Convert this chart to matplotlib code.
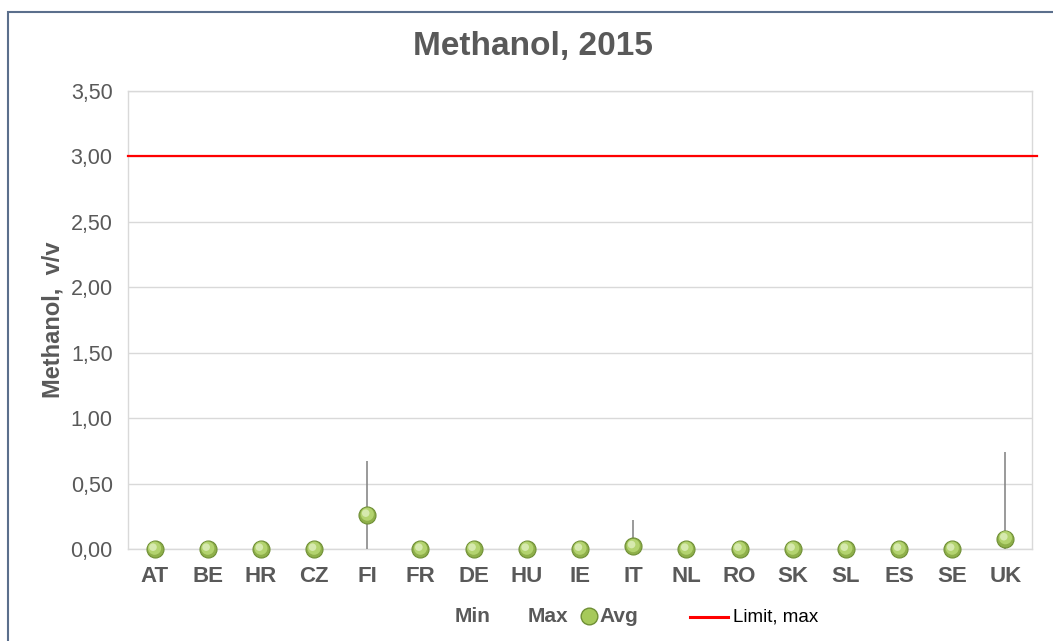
import numpy as np
import matplotlib.pyplot as plt
from matplotlib.lines import Line2D
from matplotlib.patches import Rectangle
from matplotlib.ticker import FuncFormatter

plt.rcParams['font.family'] = ['Liberation Sans', 'DejaVu Sans']

countries = ['AT', 'BE', 'HR', 'CZ', 'FI', 'FR', 'DE', 'HU', 'IE', 'IT',
             'NL', 'RO', 'SK', 'SL', 'ES', 'SE', 'UK']
v_min = [0, 0, 0, 0, 0, 0, 0, 0, 0, 0, 0, 0, 0, 0, 0, 0, 0]
v_max = [0, 0, 0, 0, 0.67, 0, 0, 0, 0, 0.22, 0, 0, 0, 0, 0, 0, 0.74]
v_avg = [0, 0, 0, 0, 0.26, 0, 0, 0, 0, 0.02, 0, 0, 0, 0, 0, 0, 0.08]
limit_max = 3.0

grey = '#595959'
grid_c = '#d9d9d9'
green = '#a6c95a'
green_edge = '#6f8f35'

fig = plt.figure(figsize=(10.53, 6.41), dpi=100)
fig.patches.append(Rectangle((8/1053, -0.2), 1.2, 1 - 12/641 + 0.2, transform=fig.transFigure,
                             fill=False, edgecolor='#5b6f8c', linewidth=1.5))
ax = fig.add_axes([128/1053, 1 - 549/641, 904/1053, 458/641])

x = np.arange(len(countries))

# min-max range
ax.vlines(x, v_min, v_max, color='#7f7f7f', linewidth=1.1, zorder=3)

# average markers, faked sphere look
ax.scatter(x, v_avg, s=150, color='#8fb04a', edgecolor=green_edge, linewidth=0.8,
           zorder=4, clip_on=False)
ax.scatter(x, np.array(v_avg) + 0.006, s=90, color='#b3d36f', edgecolor='none', zorder=5, clip_on=False)
ax.scatter(x - 0.03, np.array(v_avg) + 0.014, s=30, color='#d6e9ae', edgecolor='none',
           zorder=6, clip_on=False)

# limit line, runs a bit past the plot area
ax.plot([-0.5, 16.6], [limit_max, limit_max], color='#ff0000', linewidth=1.6,
        zorder=3, clip_on=False)

ax.set_xlim(-0.5, len(countries) - 0.5)
ax.set_ylim(0, 3.5)
ax.set_yticks(np.arange(0, 3.51, 0.5))
ax.yaxis.set_major_formatter(FuncFormatter(lambda v, p: f'{v:.2f}'.replace('.', ',')))
ax.set_xticks(x)
ax.set_xticklabels(countries, fontweight='bold')
ax.tick_params(axis='y', length=0, colors=grey, labelsize=15.5, pad=11)
ax.tick_params(axis='x', length=0, colors=grey, labelsize=16, pad=12)
ax.grid(axis='y', color=grid_c, linewidth=1)
ax.set_axisbelow(True)
for s in ax.spines.values():
    s.set_color(grid_c)
    s.set_linewidth(1)

ax.set_ylabel('Methanol,  v/v', fontsize=17, fontweight='bold', color=grey, labelpad=4)
fig.text(533/1053, 1 - 47/641, 'Methanol, 2015', ha='center', va='center',
         fontsize=24, fontweight='bold', color=grey)

# legend, laid out by hand like the original
ly = 1 - 616/641
fig.text(455/1053, ly, 'Min', ha='left', va='center', fontsize=15,
         fontweight='bold', color=grey)
fig.text(528/1053, ly, 'Max', ha='left', va='center', fontsize=15,
         fontweight='bold', color=grey)
fig.add_artist(Line2D([589/1053], [ly], marker='o', linestyle='none', markersize=12,
                      markerfacecolor=green, markeredgecolor=green_edge,
                      transform=fig.transFigure))
fig.text(599/1053, ly, 'Avg', ha='left', va='center', fontsize=15,
         fontweight='bold', color=grey)
fig.add_artist(Line2D([690/1053, 728/1053], [ly - 0.002, ly - 0.002], color='#ff0000',
                      linewidth=2.2, transform=fig.transFigure))
fig.text(733/1053, ly - 0.002, 'Limit, max', ha='left', va='center', fontsize=13.5,
         color='black')

fig.savefig('out.png', dpi=100)
